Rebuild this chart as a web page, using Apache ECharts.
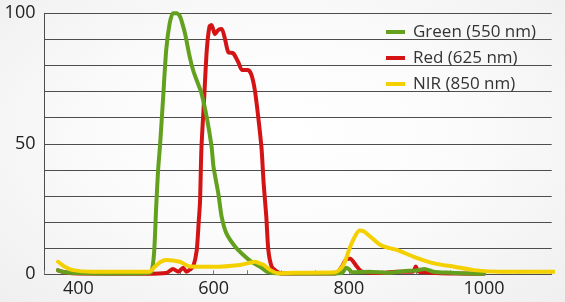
<!DOCTYPE html>
<html><head><meta charset="utf-8">
<script src="https://cdn.jsdelivr.net/npm/echarts@6/dist/echarts.min.js"></script>
<style>
html,body{margin:0;padding:0;}
#c{width:565px;height:302px;background:radial-gradient(ellipse at 50% 45%, #ffffff 0%, #fbfbfb 45%, #efefef 100%);}
</style></head><body>
<div id="c"></div>
<script>
const seriesNames = ['Green (550 nm)', 'Red (625 nm)', 'NIR (850 nm)'];
const xTickLabels = [400, 600, 800, 1000];
const yTickLabels = [0, 50, 100];

const greenData = [[370,1.5],[380,0.8],[400,0.5],[450,0.3],[480,0.3],[500,0.5],[508,1],[512,8],[515,25],[518,40],[521,50],[525,66],[530,86],[535,96],[540,100],[545,100],[550,99],[555,95],[558,92],[565,83],[570,78],[577,73],[582,69.5],[590,60],[597,49],[600,41],[607,31],[612,22],[619,15.7],[632,10.6],[647,6.7],[656,4.8],[669,2.9],[680,0.8],[700,0.3],[750,0.3],[790,0.5],[796,2.5],[800,2],[805,0.8],[830,1],[860,0.6],[880,1.2],[900,1.5],[912,2],[925,1],[950,0.6],[980,0.3],[1000,0.2]];

const redData = [[370,1.5],[380,0.8],[400,0.3],[500,0.2],[530,0.5],[540,2],[548,1],[555,2.5],[560,1],[566,2],[570,3],[575,9],[578,20],[580,28],[582,48],[586,67],[590,86],[594,95],[597,95.5],[602,92],[607,93.6],[612,94],[617,90],[622,85],[629,84.7],[637,81],[642,78.3],[651,78.3],[656,76.4],[661,70.6],[666,60.4],[671,48],[674,35],[678,22],[681,9.3],[686,2.9],[694,1],[700,0.3],[780,0.3],[790,3],[797,6],[802,6],[812,2.9],[820,1],[850,0.5],[870,1],[895,1],[899,3],[903,1],[930,0.5],[960,0.3],[1000,0.2]];

const nirData = [[370,4.8],[380,2.9],[392,1.6],[420,1],[505,1],[513,2.9],[522,4.8],[530,5.5],[550,4.8],[565,3],[600,2.9],[639,3.6],[655,4.5],[661,4.8],[668,4.2],[674,3.6],[684,1.6],[696,0.4],[720,0.6],[780,0.8],[792,3.6],[802,10.6],[810,15],[816,16.8],[822,16.5],[832,14.4],[847,11.2],[860,10],[872,9.3],[896,6.7],[926,4.2],[956,2.9],[985,1.6],[1025,1],[1074,1],[1107,1]];

const colors = ['#62a01e', '#d41414', '#f4d000'];
const font = '"Open Sans", "DejaVu Sans", sans-serif';

const chart = echarts.init(document.getElementById('c'), null, {renderer: 'canvas'});
function mk(name, data, color, z) {
  return {
    name: name, type: 'line', data: data, showSymbol: false, smooth: 0.25,
    clip: false, z: z,
    lineStyle: {color: color, width: 4, cap: 'round', join: 'round'},
    itemStyle: {color: color}
  };
}
chart.setOption({
  animation: false,
  backgroundColor: 'transparent',
  grid: {left: 44.5, top: 13.3, right: 13.3, bottom: 27.7},
  legend: {
    data: seriesNames, orient: 'vertical', left: 381, top: 17,
    icon: 'rect', itemWidth: 19, itemHeight: 4, itemGap: 6,
    textStyle: {fontFamily: font, fontSize: 17, color: '#333', lineHeight: 20, padding: [0,0,0,3]}
  },
  xAxis: {
    type: 'value', min: 350, max: 1100, interval: 50,
    axisLine: {show: true, lineStyle: {color: '#4d4d4d', width: 1}},
    axisTick: {show: true, inside: true, length: 4, lineStyle: {color: '#777'}},
    splitLine: {show: false},
    axisLabel: {
      margin: 6, fontFamily: font, fontSize: 18, color: '#222',
      formatter: v => xTickLabels.indexOf(v) >= 0 ? String(v) : ''
    }
  },
  yAxis: {
    type: 'value', min: 0, max: 100, interval: 10,
    axisLine: {show: true, lineStyle: {color: '#4d4d4d', width: 1}},
    axisTick: {show: false},
    splitLine: {show: true, lineStyle: {color: '#4d4d4d', width: 1}},
    axisLabel: {
      margin: 9, fontFamily: font, fontSize: 18, color: '#222',
      formatter: v => yTickLabels.indexOf(v) >= 0 ? String(v) : ''
    }
  },
  series: [
    mk(seriesNames[1], redData, colors[1], 2),
    mk(seriesNames[0], greenData, colors[0], 3),
    mk(seriesNames[2], nirData, colors[2], 4)
  ]
});
</script></body></html>
